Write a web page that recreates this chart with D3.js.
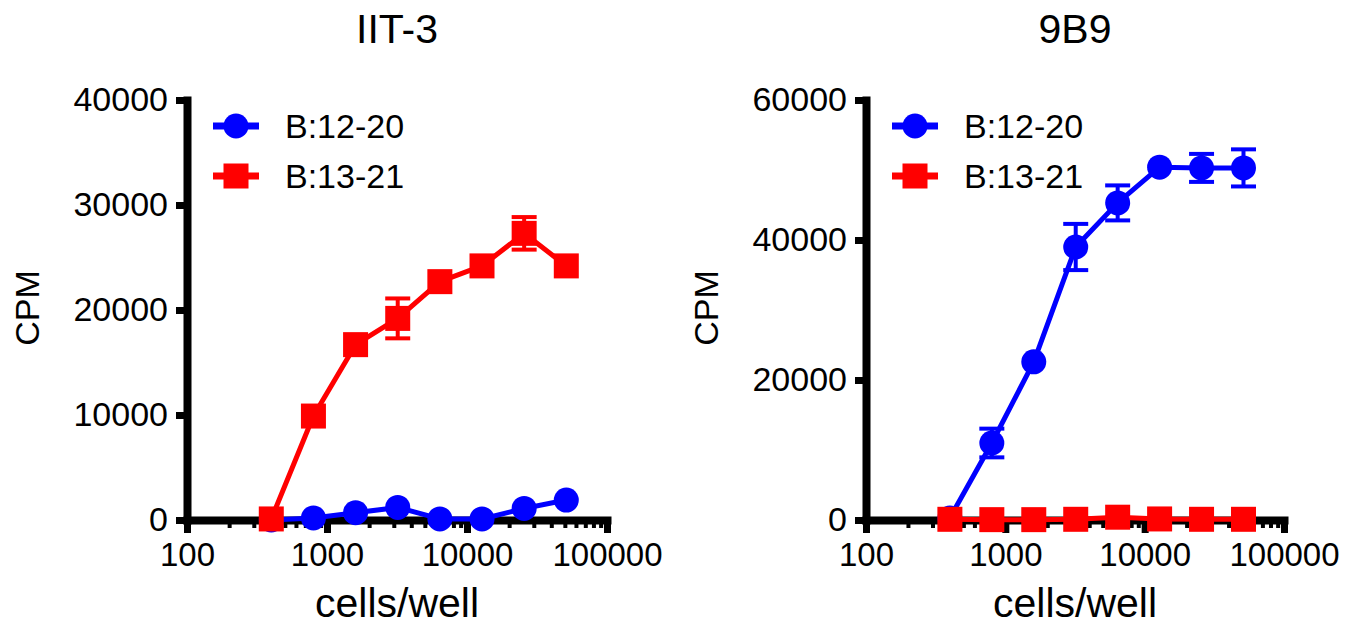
<!DOCTYPE html>
<html>
<head>
<meta charset="utf-8">
<script src="https://cdn.jsdelivr.net/npm/d3@7"></script>
<style>
  html, body { margin: 0; padding: 0; background: #fff; }
  svg { display: block; font-family: "Liberation Sans", Arial, sans-serif; }
</style>
</head>
<body>
<svg id="chart" width="1363" height="639"></svg>
<script>
// ---------- data ----------
const cellsPerWell = [400, 800, 1600, 3200, 6400, 12800, 25600, 51200];
const seriesNames = ["B:12-20", "B:13-21"];
const seriesColors = ["#0000ff", "#ff0000"];
const seriesShapes = ["circle", "square"];

const iit3_B1220 = [0, 200, 700, 1200, 100, 100, 1100, 1900];
const iit3_B1220_err = [0, 0, 0, 0, 0, 0, 0, 0];
const iit3_B1321 = [100, 9900, 16700, 19200, 22700, 24200, 27300, 24200];
const iit3_B1321_err = [0, 0, 0, 1900, 0, 0, 1550, 0];

const b9b9_B1220 = [300, 11000, 22600, 39000, 45300, 50400, 50300, 50300];
const b9b9_B1220_err = [0, 2050, 0, 3300, 2500, 0, 2000, 2650];
const b9b9_B1321 = [100, 50, 50, 100, 400, 150, 100, 100];
const b9b9_B1321_err = [0, 0, 0, 0, 0, 0, 0, 0];

const xMajorTicks = [100, 1000, 10000, 100000];
const iit3_yTicks = [0, 10000, 20000, 30000, 40000];
const b9b9_yTicks = [0, 20000, 40000, 60000];

const panels = [
  { title: "IIT-3", yMax: 40000, yTicks: iit3_yTicks, x0: 187, x1: 607,
    series: [[iit3_B1220, iit3_B1220_err], [iit3_B1321, iit3_B1321_err]] },
  { title: "9B9", yMax: 60000, yTicks: b9b9_yTicks, x0: 866, x1: 1284,
    series: [[b9b9_B1220, b9b9_B1220_err], [b9b9_B1321, b9b9_B1321_err]] }
];

// minor ticks 200..900, 2000..9000, 20000..90000
const xMinorTicks = [];
[100, 1000, 10000].forEach(d => { for (let k = 2; k <= 9; k++) xMinorTicks.push(d * k); });

// ---------- drawing ----------
const svg = d3.select("#chart");
const yTop = 100, yBottom = 520;
const MARK = 25, R = 12.5, LW = 5;

function drawMarker(g, shape, cx, cy, color) {
  if (shape === "circle") {
    g.append("circle").attr("cx", cx).attr("cy", cy).attr("r", R).attr("fill", color);
  } else {
    g.append("rect").attr("x", cx - MARK / 2).attr("y", cy - MARK / 2)
      .attr("width", MARK).attr("height", MARK).attr("fill", color);
  }
}

panels.forEach(p => {
  const x = d3.scaleLog().domain([100, 100000]).range([p.x0, p.x1]);
  const y = d3.scaleLinear().domain([0, p.yMax]).range([yBottom, yTop]);
  const g = svg.append("g");
  const cx = (p.x0 + p.x1) / 2;

  // title
  g.append("text").attr("x", cx).attr("y", 43).attr("text-anchor", "middle")
    .attr("font-size", 41).text(p.title);

  // y axis
  const yAxis = d3.axisLeft(y).tickValues(p.yTicks).tickFormat(d3.format("d"))
    .tickSizeInner(11).tickSizeOuter(0).tickPadding(8);
  const ya = g.append("g").attr("transform", `translate(${p.x0},0)`).call(yAxis);
  ya.select(".domain").attr("stroke", "#000").attr("stroke-width", 8)
    .attr("stroke-linecap", "square");
  ya.selectAll(".tick line").attr("stroke", "#000").attr("stroke-width", 7);
  ya.selectAll(".tick text").attr("font-size", 34).attr("fill", "#000")
    .attr("font-family", "Liberation Sans, Arial, sans-serif");

  // x axis (minor ticks)
  const xMinor = d3.axisBottom(x).tickValues(xMinorTicks).tickFormat("")
    .tickSizeInner(8).tickSizeOuter(0);
  const xm = g.append("g").attr("transform", `translate(0,${yBottom})`).call(xMinor);
  xm.select(".domain").remove();
  xm.selectAll(".tick line").attr("stroke", "#000").attr("stroke-width", 4);

  // x axis (major)
  const xAxis = d3.axisBottom(x).tickValues(xMajorTicks).tickFormat(d3.format("d"))
    .tickSizeInner(13).tickSizeOuter(0).tickPadding(10);
  const xa = g.append("g").attr("transform", `translate(0,${yBottom})`).call(xAxis);
  xa.select(".domain").attr("stroke", "#000").attr("stroke-width", 8)
    .attr("stroke-linecap", "square");
  xa.selectAll(".tick line").attr("stroke", "#000").attr("stroke-width", 7);
  xa.selectAll(".tick text").attr("font-size", 33).attr("fill", "#000")
    .attr("font-family", "Liberation Sans, Arial, sans-serif");

  // axis labels
  g.append("text").attr("x", cx).attr("y", 617).attr("text-anchor", "middle")
    .attr("font-size", 41).text("cells/well");
  g.append("text").attr("transform", `translate(${p.x0 - 148},308) rotate(-90)`)
    .attr("text-anchor", "middle").attr("font-size", 34).text("CPM");

  // data series
  p.series.forEach(([vals, errs], si) => {
    const color = seriesColors[si];
    const sg = g.append("g");
    const line = d3.line().x((d, i) => x(cellsPerWell[i])).y(d => y(d));
    sg.append("path").attr("d", line(vals)).attr("fill", "none")
      .attr("stroke", color).attr("stroke-width", LW).attr("stroke-linejoin", "round");
    vals.forEach((v, i) => {
      const px = x(cellsPerWell[i]);
      const e = errs[i];
      if (e > 0) {
        const yt = y(v + e), yb = y(Math.max(0, v - e));
        sg.append("line").attr("x1", px).attr("x2", px).attr("y1", yt).attr("y2", yb)
          .attr("stroke", color).attr("stroke-width", 4);
        [yt, yb].forEach(yy => sg.append("line").attr("x1", px - 12.5).attr("x2", px + 12.5)
          .attr("y1", yy).attr("y2", yy).attr("stroke", color).attr("stroke-width", 4));
      }
      drawMarker(sg, seriesShapes[si], px, y(v), color);
    });
  });

  // legend
  seriesNames.forEach((name, si) => {
    const ly = 126 + si * 50;
    const mx = p.x0 + 49;
    const lg = g.append("g");
    lg.append("line").attr("x1", mx - 23).attr("x2", mx + 23).attr("y1", ly).attr("y2", ly)
      .attr("stroke", seriesColors[si]).attr("stroke-width", 7);
    drawMarker(lg, seriesShapes[si], mx, ly, seriesColors[si]);
    lg.append("text").attr("x", p.x0 + 98).attr("y", ly + 12).attr("font-size", 34)
      .text(name);
  });
});
</script>
</body>
</html>
